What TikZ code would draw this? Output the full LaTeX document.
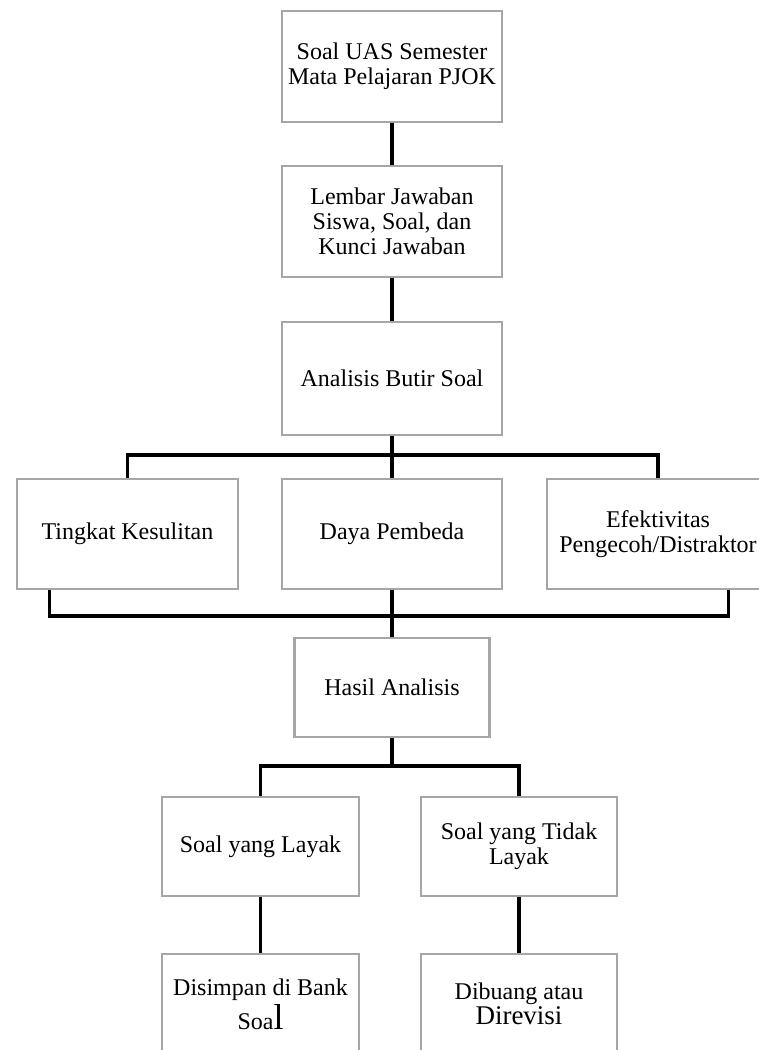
\documentclass[tikz,border=0pt]{standalone}
\usepackage{fontspec}
\setmainfont{Liberation Serif}
\usetikzlibrary{calc}

\begin{document}
\begin{tikzpicture}[x=0.5pt, y=-0.5pt,
  box/.style={draw=gray!70, line width=1.4pt, align=center, inner sep=0pt,
    font=\fontsize{12}{12.5}\selectfont},
  link/.style={line width=1.8pt, black}]
\useasboundingbox (0, 0) rectangle (759, 1050);
\clip (0, 0) rectangle (759, 1050);

\node[box, minimum width=110pt, minimum height=55.5pt] (soal) at (392, 66.5)
  {Soal UAS Semester\\Mata Pelajaran PJOK};
\node[box, minimum width=110pt, minimum height=55.5pt] (lembar) at (392, 221.5)
  {Lembar Jawaban\\Siswa, Soal, dan\\Kunci Jawaban};
\node[box, minimum width=110pt, minimum height=56.5pt] (analisis) at (392, 378.5)
  {Analisis Butir Soal};

\node[box, minimum width=110.5pt, minimum height=55pt] (tingkat) at (127.5, 534)
  {Tingkat Kesulitan};
\node[box, minimum width=110pt, minimum height=55pt] (daya) at (392, 534)
  {Daya Pembeda};
\node[box, minimum width=111pt, minimum height=55pt] (efek) at (658, 534)
  {Efektivitas\\Pengecoh/Distraktor};

\node[box, minimum width=97.5pt, minimum height=49.5pt] (hasil) at (392, 687.5)
  {Hasil Analisis};

\node[box, minimum width=98.5pt, minimum height=49.5pt] (layak) at (260.5, 846.5)
  {Soal yang Layak};
\node[box, minimum width=98pt, minimum height=49.5pt] (tidak) at (519, 846.5)
  {Soal yang Tidak\\Layak};

\node[box, minimum width=98.5pt, minimum height=50pt] (simpan) at (260.5, 1004)
  {Disimpan di Bank\\[1pt]Soa{\fontsize{18}{18}\selectfont l}};
\node[box, minimum width=98pt, minimum height=50pt] (buang) at (519, 1004)
  {Dibuang atau\\{\fontsize{13.5}{14}\selectfont Direvisi}};

\coordinate (bar1) at (392, 455);
\coordinate (bar2) at (392, 616);
\coordinate (bar3) at (392, 766);

\draw[link] (soal) -- (lembar);
\draw[link] (lembar) -- (analisis);
\draw[link] (analisis) -- (bar1);
\draw[link] (tingkat.north) |- (bar1) -| (efek.north);
\draw[link] (bar1) -- (daya);
\draw[link] ([xshift=17pt]tingkat.south west) |- (bar2) -| ([xshift=-21pt]efek.south east);
\draw[link] (daya) -- (hasil);
\draw[link] (hasil) -- (bar3);
\draw[link] (layak.north) |- (bar3) -| (tidak.north);
\draw[link] (layak) -- (simpan);
\draw[link] (tidak) -- (buang);
\end{tikzpicture}
\end{document}
